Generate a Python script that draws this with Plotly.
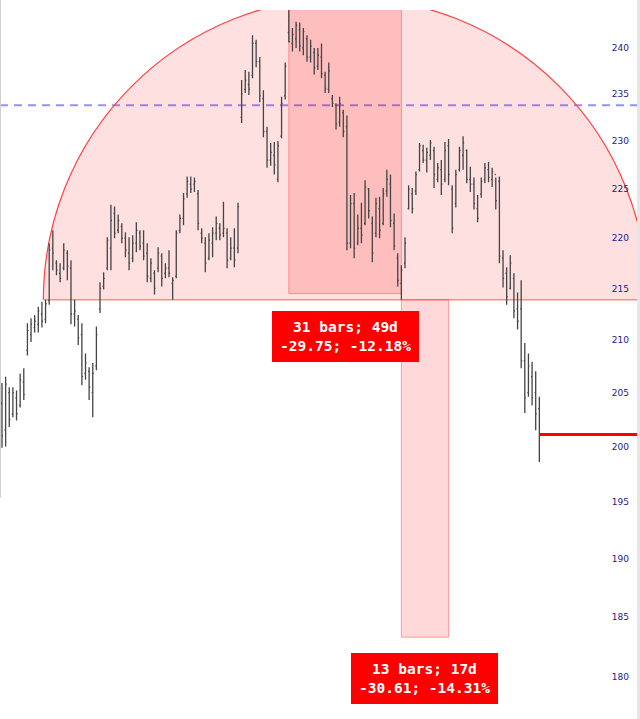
import math
import plotly.graph_objects as go

# ---------------- data ----------------
high = [205.9, 206.5, 205.5, 205.5, 205.2, 206.8, 207.3, 211.6, 212.1, 212.4,
        213.2, 213.7, 213.9, 219.5, 220.8, 217.8, 217.5, 219.5, 218.8, 217.8,
        213.9, 212.4, 211.6, 208.7, 207.4, 207.8, 211.3, 215.6, 216.6, 220.1,
        223.4, 223.2, 222.4, 221.5, 220.6, 220.1, 220.3, 221.6, 220.8, 220.8,
        219.5, 218.0, 216.8, 219.1, 218.5, 217.5, 218.8, 216.1, 220.8, 222.4,
        224.6, 226.3, 226.3, 226.2, 224.9, 221.0, 220.1, 220.5, 221.1, 222.2,
        221.5, 223.7, 221.0, 220.1, 221.0, 223.6, 236.5, 237.6, 237.4, 241.4,
        240.9, 239.0, 235.4, 231.5, 229.8, 229.9, 230.0, 234.7, 238.4, 244.2,
        242.2, 242.9, 242.8, 242.2, 241.4, 240.9, 240.0, 240.0, 240.5, 237.4,
        238.4, 234.9, 234.0, 234.7, 233.3, 232.7, 224.4, 224.6, 222.4, 223.6,
        225.9, 225.1, 222.2, 224.1, 224.2, 225.1, 227.0, 226.5, 222.5, 218.5,
        217.3, 220.1, 225.4, 225.1, 226.8, 229.8, 229.6, 229.3, 230.1, 229.4,
        227.7, 228.0, 229.9, 230.2, 225.4, 227.0, 229.4, 230.5, 229.1, 227.3,
        226.2, 224.4, 226.2, 227.7, 227.8, 227.2, 226.2, 226.3, 218.8, 217.1,
        218.3, 216.5, 214.6, 215.8, 209.7, 208.7, 207.9, 207.0, 204.6]
low = [199.9, 200.0, 201.8, 202.7, 202.4, 203.6, 204.3, 208.5, 209.8, 210.7,
       210.7, 211.2, 211.6, 213.4, 216.8, 216.3, 215.6, 216.8, 215.8, 211.5,
       211.3, 209.5, 205.7, 206.2, 204.3, 202.7, 207.1, 212.6, 214.9, 216.8,
       216.8, 220.0, 220.5, 219.5, 218.1, 216.8, 217.6, 218.6, 218.8, 217.8,
       215.6, 215.6, 214.4, 216.6, 215.2, 216.0, 216.1, 213.9, 216.0, 220.5,
       221.3, 224.1, 224.6, 224.7, 220.8, 219.5, 216.6, 217.8, 218.1, 219.8,
       219.8, 220.1, 217.0, 217.8, 217.1, 218.5, 231.9, 235.1, 234.9, 236.7,
       237.9, 234.1, 230.4, 227.2, 227.4, 226.5, 225.7, 230.3, 234.4, 240.6,
       239.6, 240.0, 239.6, 239.2, 238.5, 238.4, 237.1, 237.6, 236.7, 235.1,
       235.1, 233.6, 231.2, 231.5, 230.4, 218.8, 219.0, 218.0, 219.3, 219.5,
       221.3, 222.0, 217.6, 220.1, 220.0, 221.3, 224.2, 221.1, 218.8, 215.2,
       213.9, 217.0, 222.9, 222.5, 224.4, 226.8, 227.7, 226.7, 228.0, 225.1,
       225.7, 224.4, 225.7, 225.4, 220.5, 223.1, 226.8, 227.0, 225.6, 224.7,
       222.9, 221.6, 224.1, 225.6, 225.7, 225.2, 222.9, 217.5, 215.1, 213.4,
       214.9, 212.1, 211.0, 207.3, 203.1, 204.6, 203.8, 201.5, 198.6]
open_ = [204.0, 201.5, 205.0, 203.0, 204.5, 203.8, 206.0, 209.0, 210.5, 211.2,
         211.5, 212.5, 212.0, 213.8, 219.0, 217.5, 216.5, 217.0, 218.5, 217.0,
         212.5, 212.0, 210.5, 206.8, 207.0, 205.0, 207.5, 213.0, 215.2, 217.0,
         219.0, 222.5, 220.8, 221.2, 220.0, 218.5, 218.0, 219.5, 220.5, 219.5,
         218.5, 216.0, 216.5, 217.0, 218.2, 216.5, 217.0, 215.5, 216.2, 220.8,
         222.0, 224.5, 225.5, 225.5, 224.5, 220.5, 219.5, 218.0, 219.5, 220.5,
         221.0, 220.5, 220.5, 218.0, 219.0, 219.0, 232.5, 235.5, 236.0, 237.0,
         240.5, 238.5, 234.5, 231.0, 228.0, 228.5, 226.0, 230.5, 234.8, 241.7,
         240.5, 241.0, 242.0, 240.0, 241.0, 239.0, 239.5, 238.0, 239.0, 237.0,
         235.5, 234.5, 233.8, 232.0, 233.0, 231.5, 219.5, 223.5, 219.5, 221.0,
         221.5, 225.0, 221.5, 220.5, 223.0, 221.5, 224.8, 225.5, 221.5, 218.0,
         215.5, 217.5, 223.0, 224.5, 224.8, 227.0, 229.0, 228.0, 228.5, 229.0,
         226.0, 227.0, 226.0, 229.5, 225.0, 223.5, 227.0, 228.5, 229.0, 226.0,
         225.5, 223.0, 224.5, 226.0, 227.0, 226.0, 226.5, 225.8, 218.0, 216.5,
         215.0, 216.0, 213.0, 213.0, 208.0, 205.0, 206.5, 205.0, 203.5]
close = [201.0, 205.8, 202.5, 205.0, 203.0, 206.2, 204.8, 210.9, 211.5, 211.8,
         212.8, 211.8, 213.5, 218.8, 218.5, 216.8, 216.0, 218.8, 217.2, 212.5,
         212.8, 210.2, 206.5, 207.8, 205.5, 206.8, 210.5, 215.0, 216.0, 219.8,
         221.8, 220.5, 221.8, 220.0, 218.8, 217.5, 219.5, 220.8, 219.2, 218.2,
         216.2, 217.5, 215.0, 218.5, 216.0, 217.0, 216.5, 215.8, 220.5, 222.0,
         224.0, 225.8, 225.0, 225.8, 221.5, 220.0, 217.5, 219.8, 220.5, 221.5,
         220.3, 221.0, 217.8, 219.0, 217.8, 223.2, 235.0, 236.5, 235.5, 240.5,
         238.5, 234.8, 231.0, 228.0, 228.8, 227.5, 229.5, 234.0, 238.0, 240.7,
         241.5, 242.5, 240.2, 241.8, 239.0, 240.2, 237.8, 239.2, 237.2, 235.6,
         237.5, 234.0, 231.8, 234.0, 231.0, 219.5, 223.5, 219.0, 221.0, 220.3,
         225.2, 222.8, 218.5, 223.5, 220.8, 224.5, 226.0, 221.8, 219.2, 215.8,
         216.8, 219.5, 225.0, 223.0, 226.5, 229.5, 228.0, 228.8, 229.8, 226.5,
         227.2, 225.5, 229.0, 226.5, 221.0, 226.5, 229.0, 229.8, 226.0, 225.5,
         223.5, 222.0, 225.8, 227.2, 226.2, 226.8, 223.8, 218.2, 216.0, 214.2,
         217.5, 212.8, 211.8, 208.0, 204.5, 207.5, 204.5, 203.0, 201.1]
bars = list(range(len(close)))

y_ticks = [180, 185, 190, 195, 200, 205, 210, 215, 220, 225, 230, 235, 240]

# drawing tool values
arc_left_bar, arc_center_bar, arc_base = 11.4, 94.6, 213.9
drop1 = dict(start=79, end=110, top=244.25, bottom=214.5, text="31 bars; 49d<br>-29.75; -12.18%")
drop2 = dict(start=110, end=123, top=213.9, bottom=183.3, text="13 bars; 17d<br>-30.61; -14.31%")
dash_level = 233.8
target_level, target_bar = 201.1, 148

# ---------------- layout geometry ----------------
W, H = 640, 719
M = dict(l=0, r=3, t=10, b=0)
plot_w = W - M["l"] - M["r"]
plot_h = H - M["t"] - M["b"]
y_lo, y_hi = 176.57, 244.2
x_range = [-0.55, 174.9]
y_range = [math.log10(y_lo), math.log10(y_hi)]
px_per_bar = plot_w / (x_range[1] - x_range[0])
px_per_log = plot_h / (y_range[1] - y_range[0])

fig = go.Figure()
fig.add_trace(go.Ohlc(
    x=bars, open=open_, high=high, low=low, close=close,
    increasing=dict(line=dict(color="#444444", width=1.3)),
    decreasing=dict(line=dict(color="#444444", width=1.3)),
    tickwidth=0.3, hoverinfo="skip", showlegend=False,
))

shapes = []
# semicircle arc (round in screen pixels); shapes take price values
rx = arc_center_bar - arc_left_bar
ry = rx * px_per_bar / px_per_log
yc = math.log10(arc_base)
shapes.append(dict(type="circle", xref="x", yref="y", layer="below",
                   x0=arc_center_bar - rx, x1=arc_center_bar + rx,
                   y0=10 ** (yc - ry), y1=10 ** (yc + ry),
                   fillcolor="rgba(255,0,0,0.12)", line=dict(color="#ff4040", width=1.2)))
# hide the lower half
shapes.append(dict(type="rect", xref="x", yref="y", layer="below",
                   x0=x_range[0] - 5, x1=x_range[1] + 5, y0=y_lo * 0.9, y1=arc_base,
                   fillcolor="white", line=dict(width=0)))
# arc baseline
shapes.append(dict(type="line", xref="x", yref="y", layer="below",
                   x0=arc_left_bar, x1=x_range[1] + 5, y0=arc_base, y1=arc_base,
                   line=dict(color="#ff8a8a", width=1.5)))
for d in (drop1, drop2):
    shapes.append(dict(type="rect", xref="x", yref="y", layer="below",
                       x0=d["start"], x1=d["end"], y0=d["bottom"], y1=d["top"],
                       fillcolor="rgba(255,0,0,0.15)", line=dict(color="rgba(255,60,60,0.45)", width=1)))
# dashed horizontal line
shapes.append(dict(type="line", xref="paper", yref="y", layer="below",
                   x0=0, x1=1, y0=dash_level, y1=dash_level,
                   line=dict(color="rgba(110,110,255,0.75)", width=2, dash="8px,6px")))
# target line
shapes.append(dict(type="line", xref="x", yref="y", layer="above",
                   x0=target_bar, x1=x_range[1] + 5, y0=target_level, y1=target_level,
                   line=dict(color="#ff0000", width=3)))
# frame bits
shapes.append(dict(type="line", xref="paper", yref="paper", layer="above",
                   x0=0.0008, x1=0.0008, y0=0.312, y1=1.02, line=dict(color="#d0d0d0", width=1)))
shapes.append(dict(type="rect", xref="paper", yref="paper", layer="above",
                   x0=1.0, x1=1.006, y0=-0.02, y1=1.02, fillcolor="#e6e6e6", line=dict(width=0)))

annotations = []
for d, shift in ((drop1, -17), (drop2, -16)):
    annotations.append(dict(
        x=(d["start"] + d["end"]) / 2, y=math.log10(d["bottom"]), xref="x", yref="y",
        yanchor="top", xanchor="center", yshift=shift, showarrow=False,
        text="<b>" + d["text"] + "</b>", align="center",
        font=dict(family="DejaVu Sans Mono", size=14.5, color="white"),
        bgcolor="#ff0000", bordercolor="#ff0000", borderwidth=1, borderpad=7,
    ))

fig.update_layout(
    width=W, height=H, margin=M,
    paper_bgcolor="white", plot_bgcolor="white",
    shapes=shapes, annotations=annotations, showlegend=False,
    xaxis=dict(range=x_range, visible=False, rangeslider=dict(visible=False),
               showgrid=False, zeroline=False),
    yaxis=dict(type="log", range=y_range, side="right", ticklabelposition="inside",
               tickvals=y_ticks, ticktext=[str(v) for v in y_ticks], ticks="",
               showgrid=False, zeroline=False, showline=False, ticklabelstandoff=5,
               tickfont=dict(family="DejaVu Sans", size=9, color="#22228a")),
)

fig.write_html("out.html", config={"displayModeBar": False},
               post_script="document.body.style.margin='0';")
